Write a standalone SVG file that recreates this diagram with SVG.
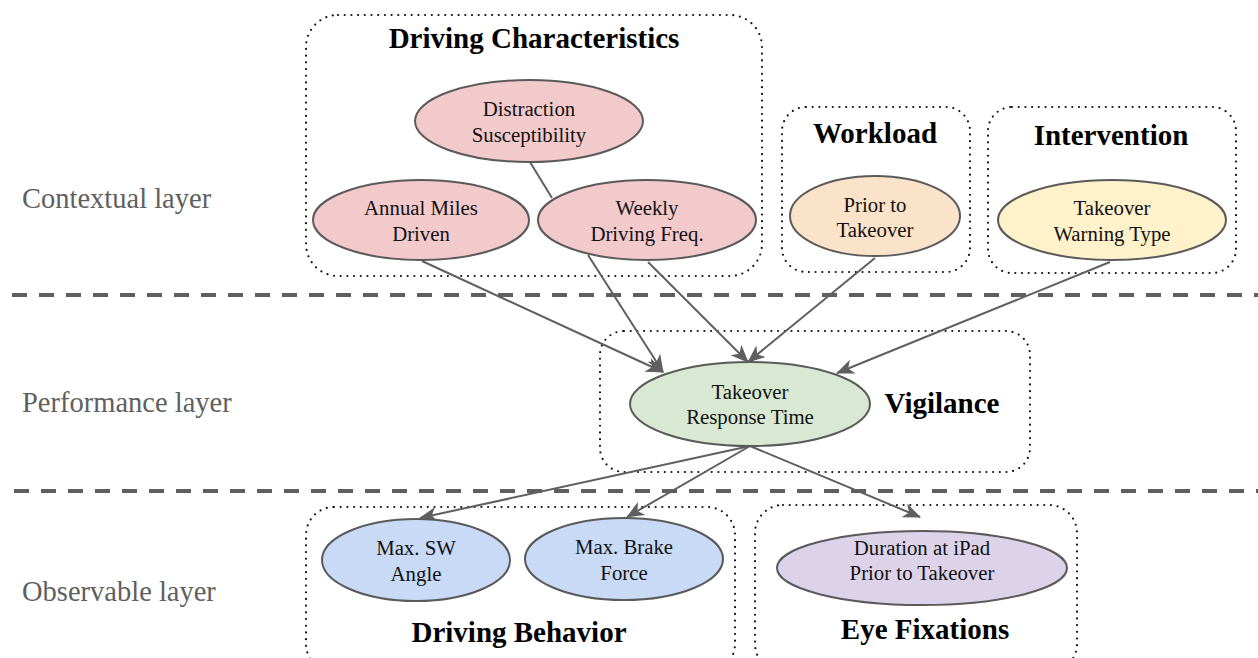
<svg xmlns="http://www.w3.org/2000/svg" width="1258" height="658" viewBox="0 0 1258 658">
<style>
.box{fill:none;stroke:#111;stroke-width:2.2;stroke-dasharray:0 6.7;stroke-linecap:round}
.title{font-family:"Liberation Serif",serif;font-weight:bold;font-size:29px;fill:#000;text-anchor:middle}
.lbl{font-family:"Liberation Serif",serif;font-size:20.8px;fill:#111;text-anchor:middle}
.layer{font-family:"Liberation Serif",serif;font-size:28.5px;fill:#5f5f5f}
.sep{stroke:#5f5f5f;stroke-width:4;stroke-dasharray:15 12}
.node{stroke:#5a5a5a;stroke-width:2}
.edge{stroke:#5f5f5f;stroke-width:2;fill:none}
</style>
<defs>
<marker id="arr" markerUnits="userSpaceOnUse" markerWidth="18" markerHeight="15" viewBox="0 0 18 15" refX="17" refY="7.5" orient="auto">
<path d="M0,0 L18,7.5 L0,15 L5,7.5 z" fill="#5f5f5f"/>
</marker>
</defs>
<rect width="1258" height="658" fill="#fff"/>

<g id="layers">
<text class="layer" x="22" y="208">Contextual layer</text>
<text class="layer" x="22" y="412">Performance layer</text>
<text class="layer" x="22" y="601">Observable layer</text>
<line class="sep" x1="12" y1="295" x2="1258" y2="295"/>
<line class="sep" x1="14" y1="491" x2="1258" y2="491"/>
</g>

<g id="group-driving-characteristics">
<rect class="box" x="306" y="15" width="456" height="261" rx="32"/>
<text class="title" x="534" y="48">Driving Characteristics</text>
</g>
<g id="group-workload">
<rect class="box" x="782" y="107" width="188" height="165" rx="24"/>
<text class="title" x="875" y="143">Workload</text>
</g>
<g id="group-intervention">
<rect class="box" x="988" y="107" width="248" height="166" rx="24"/>
<text class="title" x="1111" y="145">Intervention</text>
</g>
<g id="group-vigilance">
<rect class="box" x="600" y="331" width="430" height="141" rx="24"/>
<text class="title" x="942" y="413">Vigilance</text>
</g>
<g id="group-driving-behavior">
<rect class="box" x="306" y="507" width="429" height="165" rx="28"/>
<text class="title" x="519" y="642">Driving Behavior</text>
</g>
<g id="group-eye-fixations">
<rect class="box" x="755" y="505" width="322" height="167" rx="28"/>
<text class="title" x="925" y="639">Eye Fixations</text>
</g>

<g id="connectors">
<line class="edge" x1="530" y1="162" x2="552" y2="198"/>
<line class="edge" x1="422" y1="261" x2="663" y2="372" marker-end="url(#arr)"/>
<line class="edge" x1="588" y1="255" x2="663" y2="372" marker-end="url(#arr)"/>
<line class="edge" x1="648" y1="262" x2="748" y2="362" marker-end="url(#arr)"/>
<line class="edge" x1="875" y1="258" x2="748" y2="362" marker-end="url(#arr)"/>
<line class="edge" x1="1110" y1="262" x2="837" y2="373" marker-end="url(#arr)"/>
<line class="edge" x1="750" y1="446" x2="420" y2="518" marker-end="url(#arr)"/>
<line class="edge" x1="750" y1="446" x2="627" y2="517" marker-end="url(#arr)"/>
<line class="edge" x1="750" y1="446" x2="920" y2="517" marker-end="url(#arr)"/>
</g>

<g id="node-distraction">
<ellipse class="node" cx="529" cy="121" rx="114" ry="41" fill="#f3cacc"/>
<text class="lbl" x="529" y="116">Distraction</text>
<text class="lbl" x="529" y="142">Susceptibility</text>
</g>
<g id="node-annual-miles">
<ellipse class="node" cx="421" cy="220" rx="108" ry="40" fill="#f3cacc"/>
<text class="lbl" x="421" y="215">Annual Miles</text>
<text class="lbl" x="421" y="241">Driven</text>
</g>
<g id="node-weekly">
<ellipse class="node" cx="647" cy="220" rx="109" ry="40" fill="#f3cacc"/>
<text class="lbl" x="647" y="215">Weekly</text>
<text class="lbl" x="647" y="241">Driving Freq.</text>
</g>
<g id="node-prior">
<ellipse class="node" cx="875" cy="216" rx="85" ry="40" fill="#fbe3c9"/>
<text class="lbl" x="875" y="212">Prior to</text>
<text class="lbl" x="875" y="237">Takeover</text>
</g>
<g id="node-warning">
<ellipse class="node" cx="1112" cy="220" rx="114" ry="40" fill="#fff1c9"/>
<text class="lbl" x="1112" y="215">Takeover</text>
<text class="lbl" x="1112" y="241">Warning Type</text>
</g>
<g id="node-trt">
<ellipse class="node" cx="750" cy="404" rx="120" ry="42" fill="#d8e8d3"/>
<text class="lbl" x="750" y="399">Takeover</text>
<text class="lbl" x="750" y="424">Response Time</text>
</g>
<g id="node-sw">
<ellipse class="node" cx="416" cy="560" rx="94" ry="41" fill="#c9daf6"/>
<text class="lbl" x="416" y="555">Max. SW</text>
<text class="lbl" x="416" y="581">Angle</text>
</g>
<g id="node-brake">
<ellipse class="node" cx="624" cy="559" rx="99" ry="41" fill="#c9daf6"/>
<text class="lbl" x="624" y="554">Max. Brake</text>
<text class="lbl" x="624" y="580">Force</text>
</g>
<g id="node-duration">
<ellipse class="node" cx="922" cy="568" rx="145" ry="37" fill="#dcd3ea"/>
<text class="lbl" x="922" y="555">Duration at iPad</text>
<text class="lbl" x="922" y="580">Prior to Takeover</text>
</g>
</svg>
